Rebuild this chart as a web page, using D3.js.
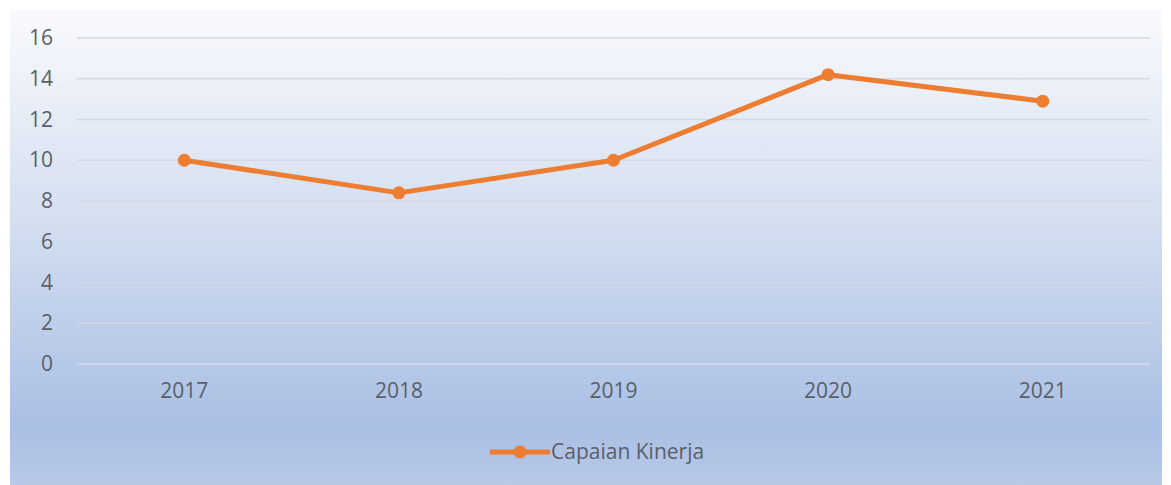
<!DOCTYPE html>
<html>
<head>
<meta charset="utf-8">
<script src="https://cdn.jsdelivr.net/npm/d3@7"></script>
<style>
  html, body { margin: 0; padding: 0; background: #ffffff; }
  svg { display: block; }
</style>
</head>
<body>
<div id="chart"></div>
<script>
// data
var years = ["2017", "2018", "2019", "2020", "2021"];
var capaian = [10, 8.4, 10, 14.2, 12.9];
var yTicks = [0, 2, 4, 6, 8, 10, 12, 14, 16];
var seriesName = "Capaian Kinerja";

function drawChart() {
    var w = 1171, h = 485;
    var margin = { top: 38, right: 21, bottom: 121, left: 77 };
    var width = w - margin.left - margin.right;
    var height = h - margin.top - margin.bottom;
    var font = "'Open Sans', sans-serif";
    var textColor = "#5a5f68";

    var svg = d3.select("#chart").append("svg")
        .attr("width", w)
        .attr("height", h);

    // background panel with vertical gradient
    var defs = svg.append("defs");
    var grad = defs.append("linearGradient")
        .attr("id", "bg")
        .attr("x1", 0).attr("y1", 0).attr("x2", 0).attr("y2", 1);
    grad.append("stop").attr("offset", "0%").attr("stop-color", "#f9fafd");
    grad.append("stop").attr("offset", "45%").attr("stop-color", "#d3def0");
    grad.append("stop").attr("offset", "88%").attr("stop-color", "#a9bfe4");
    grad.append("stop").attr("offset", "100%").attr("stop-color", "#b9c9e8");

    svg.append("rect")
        .attr("x", 10).attr("y", 10)
        .attr("width", 1152).attr("height", 475)
        .attr("fill", "url(#bg)");

    var g = svg.append("g")
        .attr("transform", `translate(${margin.left},${margin.top})`);

    var xScale = d3.scaleBand()
        .domain(years)
        .range([0, width]);

    var yScale = d3.scaleLinear()
        .domain([0, 16])
        .range([height, 0]);

    // gridlines
    g.append("g")
        .selectAll("line")
        .data(yTicks)
        .enter().append("line")
        .attr("x1", 0)
        .attr("x2", width)
        .attr("y1", d => yScale(d))
        .attr("y2", d => yScale(d))
        .attr("stroke", "#d3d9e3")
        .attr("stroke-width", 1.3);

    // y axis labels
    var yAxis = g.append("g")
        .call(d3.axisLeft(yScale).tickValues(yTicks).tickSize(0).tickPadding(24));
    yAxis.select(".domain").remove();
    yAxis.selectAll("text")
        .attr("fill", textColor)
        .style("font-family", font)
        .style("font-size", "21px");

    // x axis labels
    var xAxis = g.append("g")
        .attr("transform", `translate(0,${height})`)
        .call(d3.axisBottom(xScale).tickSize(0).tickPadding(19));
    xAxis.select(".domain").remove();
    xAxis.selectAll("text")
        .attr("fill", textColor)
        .style("font-family", font)
        .style("font-size", "21px");

    var color = "#ed7d31";
    var line = d3.line()
        .x((d, i) => xScale(years[i]) + xScale.bandwidth() / 2)
        .y(d => yScale(d));

    g.append("path")
        .datum(capaian)
        .attr("fill", "none")
        .attr("stroke", color)
        .attr("stroke-width", 5)
        .attr("stroke-linejoin", "round")
        .attr("d", line);

    g.append("g")
        .selectAll("circle")
        .data(capaian)
        .enter().append("circle")
        .attr("cx", (d, i) => xScale(years[i]) + xScale.bandwidth() / 2)
        .attr("cy", d => yScale(d))
        .attr("r", 6.5)
        .attr("fill", color);

    // legend
    var legend = svg.append("g")
        .attr("transform", "translate(490,452)");
    legend.append("line")
        .attr("x1", 0).attr("x2", 60)
        .attr("stroke", color)
        .attr("stroke-width", 5);
    legend.append("circle")
        .attr("cx", 30).attr("r", 6.5)
        .attr("fill", color);
    legend.append("text")
        .attr("x", 61)
        .attr("dy", "0.35em")
        .attr("fill", textColor)
        .style("font-family", font)
        .style("font-size", "21px")
        .text(seriesName);
}

drawChart();
</script>
</body>
</html>
